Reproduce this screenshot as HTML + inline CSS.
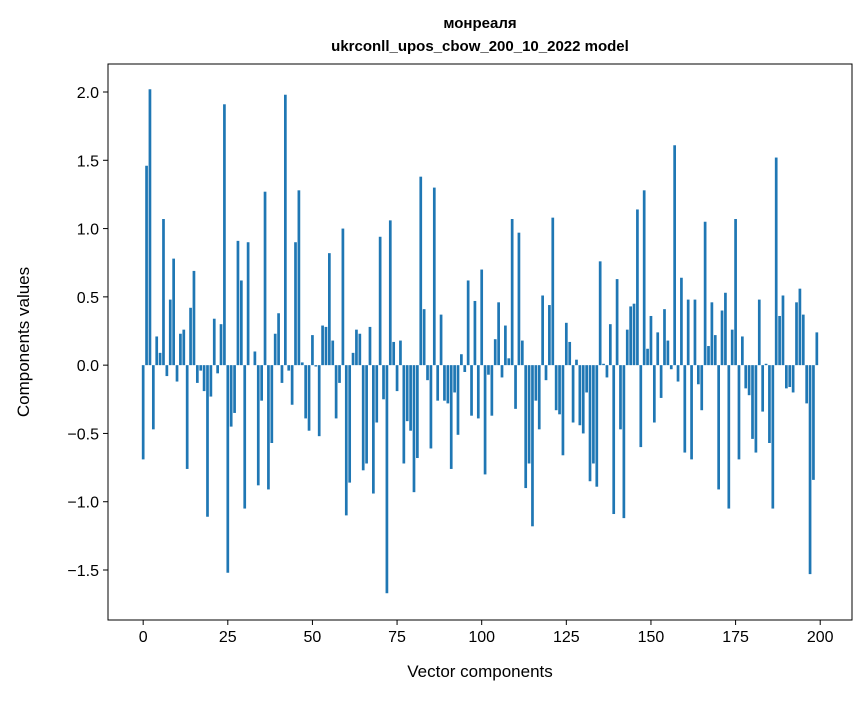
<!DOCTYPE html>
<html><head><meta charset="utf-8"><style>
body{margin:0;background:#fff;}
svg text{font-family:"Liberation Sans","DejaVu Sans",sans-serif;fill:#000;}
</style></head><body>
<svg id="chart" width="867" height="696" xmlns="http://www.w3.org/2000/svg">
<rect width="867" height="696" fill="#fff"/>
<text x="480" y="28" font-size="15" font-weight="bold" text-anchor="middle">монреаля</text>
<text x="480" y="51" font-size="15" font-weight="bold" text-anchor="middle">ukrconll_upos_cbow_200_10_2022 model</text>
<g id="bars"></g>
<g id="xticks"></g>
<g id="yticks"></g>
<rect x="108" y="64" width="744" height="556" fill="none" stroke="#000" stroke-width="1"/>
<text x="480" y="677" font-size="17" text-anchor="middle">Vector components</text>
<text x="0" y="0" font-size="17" text-anchor="middle" transform="translate(29,342) rotate(-90)">Components values</text>
</svg>
<script>
const values = [-0.69,1.46,2.02,-0.47,0.21,0.09,1.07,-0.08,0.48,0.78,
-0.12,0.23,0.26,-0.76,0.42,0.69,-0.13,-0.04,-0.19,-1.11,
-0.23,0.34,-0.06,0.30,1.91,-1.52,-0.45,-0.35,0.91,0.62,
-1.05,0.90,0,0.10,-0.88,-0.26,1.27,-0.91,-0.57,0.23,
0.38,-0.13,1.98,-0.04,-0.29,0.90,1.28,0.02,-0.39,-0.48,
0.22,-0.01,-0.52,0.29,0.28,0.82,0.18,-0.39,-0.13,1.00,
-1.10,-0.86,0.09,0.26,0.23,-0.77,-0.72,0.28,-0.94,-0.42,
0.94,-0.25,-1.67,1.06,0.17,-0.19,0.18,-0.72,-0.41,-0.48,
-0.93,-0.68,1.38,0.41,-0.11,-0.61,1.30,-0.26,0.37,-0.26,
-0.28,-0.76,-0.20,-0.51,0.08,-0.05,0.62,-0.37,0.47,-0.39,
0.70,-0.80,-0.07,-0.37,0.19,0.46,-0.09,0.29,0.05,1.07,
-0.32,0.97,0.18,-0.90,-0.72,-1.18,-0.26,-0.47,0.51,-0.11,
0.44,1.08,-0.33,-0.36,-0.66,0.31,0.17,-0.42,0.04,-0.44,
-0.50,-0.20,-0.85,-0.72,-0.89,0.76,0.01,-0.09,0.30,-1.09,
0.63,-0.47,-1.12,0.26,0.43,0.45,1.14,-0.60,1.28,0.12,
0.36,-0.42,0.24,-0.24,0.41,0.18,-0.03,1.61,-0.12,0.64,
-0.64,0.48,-0.69,0.48,-0.14,-0.33,1.05,0.14,0.46,0.22,
-0.91,0.40,0.53,-1.05,0.26,1.07,-0.69,0.21,-0.17,-0.22,
-0.54,-0.64,0.48,-0.34,0.01,-0.57,-1.05,1.52,0.36,0.51,
-0.17,-0.16,-0.20,0.46,0.56,0.37,-0.28,-1.53,-0.84,0.24];
const xTicks = [0,25,50,75,100,125,150,175,200];
const yTicks = [-1.5,-1.0,-0.5,0.0,0.5,1.0,1.5,2.0];
const yTickLabels = ["\u22121.5","\u22121.0","\u22120.5","0.0","0.5","1.0","1.5","2.0"];

const L=108,R=852,T=64,B=620;
const xMin=-10.39,xMax=209.39,yMin=-1.866,yMax=2.205;
const sx=v=>L+(v-xMin)/(xMax-xMin)*(R-L);
const sy=v=>B-(v-yMin)/(yMax-yMin)*(B-T);
const NS="http://www.w3.org/2000/svg";
const bars=document.getElementById('bars');
values.forEach((v,i)=>{
  const r=document.createElementNS(NS,'rect');
  const x0=sx(i-0.4),x1=sx(i+0.4);
  const y0=sy(Math.max(v,0)),y1=sy(Math.min(v,0));
  r.setAttribute('x',x0);r.setAttribute('width',x1-x0);
  r.setAttribute('y',y0);r.setAttribute('height',Math.max(y1-y0,0));
  r.setAttribute('fill','#1f77b4');
  
  
  bars.appendChild(r);
});
const xg=document.getElementById('xticks');
xTicks.forEach(t=>{
  const x=sx(t);
  const l=document.createElementNS(NS,'line');
  l.setAttribute('x1',x);l.setAttribute('x2',x);l.setAttribute('y1',B);l.setAttribute('y2',B+5);
  l.setAttribute('stroke','#000');
  
  
  xg.appendChild(l);
  const tx=document.createElementNS(NS,'text');
  tx.setAttribute('x',x);tx.setAttribute('y',B+22);tx.setAttribute('font-size','16');tx.setAttribute('text-anchor','middle');
  tx.textContent=t;
  
  
  xg.appendChild(tx);
});
const yg=document.getElementById('yticks');
yTicks.forEach((t,i)=>{
  const y=sy(t);
  const l=document.createElementNS(NS,'line');
  l.setAttribute('x1',L-5);l.setAttribute('x2',L);l.setAttribute('y1',y);l.setAttribute('y2',y);
  l.setAttribute('stroke','#000');
  
  
  yg.appendChild(l);
  const tx=document.createElementNS(NS,'text');
  tx.setAttribute('x',L-9);tx.setAttribute('y',y+6);tx.setAttribute('font-size','16');tx.setAttribute('text-anchor','end');
  tx.textContent=yTickLabels[i];
  
  
  yg.appendChild(tx);
});
</script>
</body></html>
